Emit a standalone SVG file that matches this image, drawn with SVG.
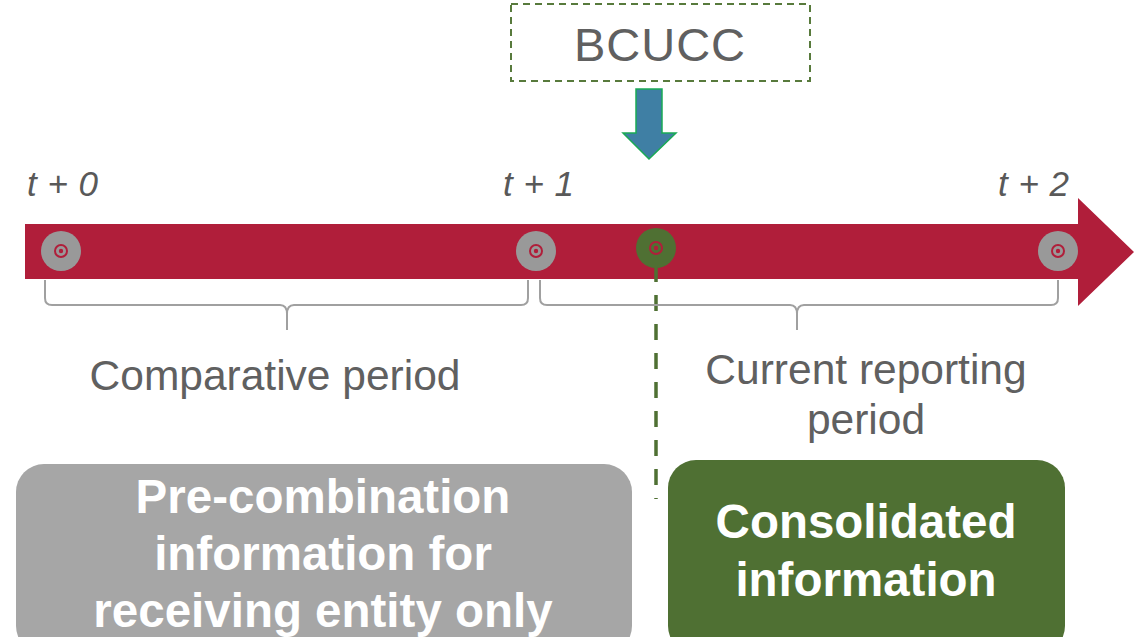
<svg xmlns="http://www.w3.org/2000/svg" width="1140" height="637" viewBox="0 0 1140 637">
  <style>
    .tick { font-family: "Liberation Sans", Arial, sans-serif; font-style: italic; font-size: 35px; fill: #595959; letter-spacing: 0.5px; }
    .lbl { font-family: "Liberation Sans", Arial, sans-serif; font-size: 42.5px; fill: #606060; text-anchor: middle; }
    .box { font-family: "Liberation Sans", Arial, sans-serif; font-weight: bold; font-size: 47.5px; fill: #ffffff; text-anchor: middle; }
    .brace { fill: none; stroke: #a0a0a0; stroke-width: 2; }
  </style>
  <defs>
    <g id="marker-dot">
      <circle r="6" fill="none" stroke="#b01e3a" stroke-width="2"/>
      <circle r="2.2" fill="#b01e3a"/>
    </g>
  </defs>
  <rect width="1140" height="637" fill="#ffffff"/>

  <!-- timeline arrow -->
  <g id="timeline">
    <polygon points="25,224 1078,224 1078,198 1134,252 1078,306 1078,279 25,279" fill="#b01e3a"/>
  </g>

  <!-- time points -->
  <g id="t0">
    <circle cx="61" cy="251" r="20" fill="#999999"/>
    <use href="#marker-dot" x="61" y="251"/>
    <text class="tick" x="27" y="196">t + 0</text>
  </g>
  <g id="t1">
    <circle cx="536" cy="251" r="20" fill="#999999"/>
    <use href="#marker-dot" x="536" y="251"/>
    <text class="tick" x="503" y="196">t + 1</text>
  </g>
  <g id="t2">
    <circle cx="1058" cy="251" r="20" fill="#999999"/>
    <use href="#marker-dot" x="1058" y="251"/>
    <text class="tick" x="998" y="196">t + 2</text>
  </g>

  <!-- BCUCC event -->
  <g id="bcucc">
    <rect x="511" y="4" width="299" height="77" fill="none" stroke="#587a3c" stroke-width="2" stroke-dasharray="7,5"/>
    <text x="660" y="61" font-family="Liberation Sans, Arial, sans-serif" font-size="47" letter-spacing="1" fill="#606060" text-anchor="middle">BCUCC</text>
  </g>
  <g id="event-point">
    <circle cx="656" cy="248" r="20" fill="#4f7033"/>
    <use href="#marker-dot" x="656" y="248"/>
  </g>

  <!-- connectors -->
  <g id="connectors">
    <polygon points="636,89 662,89 662,133 676,133 649,159 623,133 636,133" fill="#3f7fa4" stroke="#1aaa55" stroke-width="1.5"/>
    <line x1="656" y1="266" x2="656" y2="499" stroke="#4f7033" stroke-width="3.5" stroke-dasharray="16,13"/>
  </g>

  <!-- period braces -->
  <g id="brace-comparative">
    <path class="brace" d="M45,280 V298 Q45,305 52,305 H280 Q287,305 287,314 V330 M287,314 Q287,305 294,305 H521 Q528,305 528,298 V280"/>
    <text class="lbl" x="275" y="390">Comparative period</text>
  </g>
  <g id="brace-current">
    <path class="brace" d="M540,280 V298 Q540,305 547,305 H790 Q797,305 797,314 V330 M797,314 Q797,305 804,305 H1051 Q1058,305 1058,298 V280"/>
    <text class="lbl" x="866" y="384">Current reporting</text>
    <text class="lbl" x="866" y="434">period</text>
  </g>

  <!-- information boxes -->
  <g id="box-precombination">
    <rect x="16" y="464" width="616" height="190" rx="28" fill="#a6a6a6"/>
    <text class="box" x="323" y="513">Pre-combination</text>
    <text class="box" x="323" y="570">information for</text>
    <text class="box" x="323" y="627">receiving entity only</text>
  </g>
  <g id="box-consolidated">
    <rect x="668" y="460" width="397" height="194" rx="28" fill="#4f7033"/>
    <text class="box" x="866" y="538">Consolidated</text>
    <text class="box" x="866" y="596">information</text>
  </g>
</svg>
